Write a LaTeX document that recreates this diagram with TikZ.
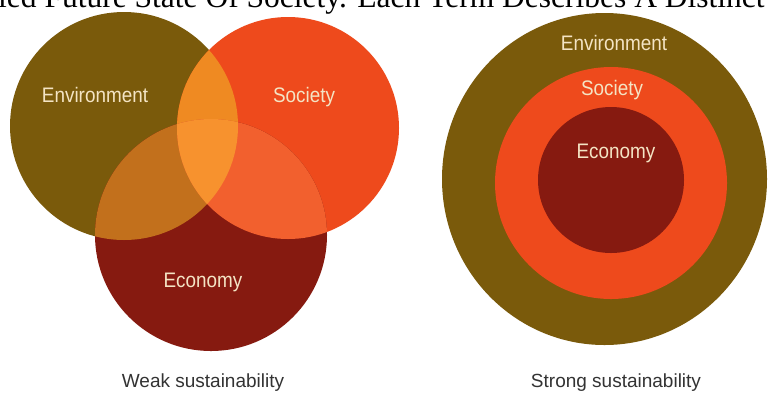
\documentclass[tikz,border=0pt]{standalone}
\usepackage{fontspec}
\usetikzlibrary{shapes.geometric}
\newfontfamily\labfont[FakeStretch=0.9]{Liberation Sans}
\newfontfamily\capfont{Liberation Sans}
\newfontfamily\topfont{Liberation Serif}
\definecolor{envc}{HTML}{7A5A0B}
\definecolor{socc}{HTML}{EE4A1C}
\definecolor{ecoc}{HTML}{861A10}
\definecolor{esc}{HTML}{EF8A22}
\definecolor{eec}{HTML}{C2701C}
\definecolor{sec}{HTML}{F2602E}
\definecolor{allc}{HTML}{F7922E}
\definecolor{labc}{HTML}{F4E4C4}
\definecolor{capc}{HTML}{333333}
\tikzset{
  disc/.style={circle, inner sep=0pt, draw=none},
  lab/.style={anchor=base, text=labc, font=\labfont\fontsize{21}{21}\selectfont, inner sep=0pt},
  captxt/.style={anchor=base, text=capc, font=\capfont\fontsize{19}{19}\selectfont, inner sep=0pt},
}
\begin{document}
\begin{tikzpicture}[x=1pt,y=-1pt]
\useasboundingbox (0,0) rectangle (770,392);
\clip (0,0) rectangle (770,392);
\fill[white] (0,0) rectangle (770,392);
% top cut-off text
\node[anchor=base west, inner sep=0pt, font=\topfont\fontsize{31.5}{31.5}\selectfont, text=black] (toptext) at (-2,7) {ied Future State Of Society. Each Term Describes A Distinct};
% weak sustainability: three overlapping circles
\node[disc, fill=envc, minimum size=228pt] (env) at (124,126) {};
\node[disc, fill=socc, minimum size=222pt] (soc) at (288,128) {};
\node[disc, fill=ecoc, minimum size=232pt] (eco) at (211,235) {};
\begin{scope}
  \clip (124,126) circle (114pt);
  \fill[esc] (288,128) circle (111pt);
  \fill[eec] (211,235) circle (116pt);
\end{scope}
\begin{scope}
  \clip (288,128) circle (111pt);
  \fill[sec] (211,235) circle (116pt);
\end{scope}
\begin{scope}
  \clip (124,126) circle (114pt);
  \clip (288,128) circle (111pt);
  \fill[allc] (211,235) circle (116pt);
\end{scope}
\node[lab] (envl) at (95,102) {Environment};
\node[lab] (socl) at (304,102) {Society};
\node[lab] (ecol) at (203,287) {Economy};
\node[captxt] (weak) at (203,387) {Weak sustainability};
% strong sustainability: concentric circles
\node[ellipse, inner sep=0pt, fill=envc, minimum width=325pt, minimum height=332pt] (senv) at (604.5,179) {};
\node[disc, fill=socc, minimum size=232pt] (ssoc) at (611,183) {};
\node[disc, fill=ecoc, minimum size=146pt] (seco) at (611,180) {};
\node[lab] (senvl) at (614,50) {Environment};
\node[lab] (ssocl) at (612,95) {Society};
\node[lab] (secol) at (616,158) {Economy};
\node[captxt] (strong) at (616,387) {Strong sustainability};
\end{tikzpicture}
\end{document}
